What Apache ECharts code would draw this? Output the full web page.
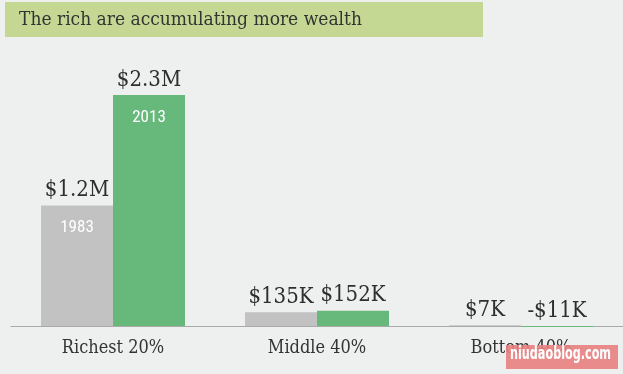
<!DOCTYPE html>
<html><head><meta charset="utf-8">
<script src="https://cdn.jsdelivr.net/npm/echarts@6/dist/echarts.min.js"></script>
<style>html,body{margin:0;padding:0;background:#eef0f0}#c{width:623px;height:374px}</style>
</head><body><div id="c"></div>
<script>
const categories = ['Richest 20%', 'Middle 40%', 'Bottom 40%'];
const values1983 = [1200, 135, 7];
const values2013 = [2300, 152, -11];
const labels1983 = ['$1.2M', '$135K', '$7K'];
const labels2013 = ['$2.3M', '$152K', '-$11K'];
const yearNames = ['1983', '2013'];
const yearLabelShown = [true, false, false];
const title = 'The rich are accumulating more wealth';

const serif = '"DejaVu Serif Condensed", "DejaVu Serif", serif';
function valueSeries(vals, labs, name, color, stack) {
  return {
    type: 'bar', name: name, stack: stack, barWidth: 72, barGap: '0%',
    itemStyle: { color: color },
    label: {
      show: true, position: 'top', distance: 4,
      fontFamily: serif, fontSize: 22, color: '#2e2e2e',
      formatter: p => labs[p.dataIndex]
    },
    data: vals
  };
}
function yearSeries(vals, name, stack) {
  return {
    type: 'bar', stack: stack, barWidth: 72, barGap: '0%', silent: true,
    itemStyle: { color: 'transparent' },
    label: {
      show: true, position: 'bottom', distance: 14, color: '#fff',
      fontFamily: '"Roboto Condensed", Roboto, sans-serif', fontSize: 17,
      formatter: p => yearLabelShown[p.dataIndex] ? name : ''
    },
    data: vals.map(() => 0)
  };
}
const chart = echarts.init(document.getElementById('c'));
chart.setOption({
  backgroundColor: '#eef0f0',
  animation: false,
  grid: { left: 11, width: 618, top: 95, bottom: 47 },
  xAxis: {
    type: 'category', data: categories,
    axisLine: { lineStyle: { color: '#aaaaaa', width: 1 } },
    axisTick: { show: false },
    axisLabel: { fontFamily: serif, fontSize: 18, color: '#333', margin: 12 }
  },
  yAxis: { type: 'value', min: -11, max: 2300, show: false, splitLine: { show: false } },
  series: [
    valueSeries(values1983, labels1983, yearNames[0], '#c2c2c2', 'a'),
    yearSeries(values1983, yearNames[0], 'a'),
    valueSeries(values2013, labels2013, yearNames[1], '#66b97a', 'b'),
    yearSeries(values2013, yearNames[1], 'b')
  ],
  graphic: [
    { type: 'rect', left: 5, top: 2, shape: { width: 478, height: 35 }, style: { fill: '#c4d894' } },
    { type: 'text', left: 19, top: 11, style: { text: title, font: '19px ' + serif, fill: '#333' } },
    { type: 'rect', left: 506, top: 345, z: 100, shape: { width: 112, height: 24 }, style: { fill: 'rgba(232,128,128,0.9)' } },
    { type: 'text', x: 510, y: 346, scaleX: 0.66, z: 101, style: { text: 'niudaoblog.com', font: 'bold 17px "DejaVu Sans", sans-serif', fill: '#fff' } }
  ]
});
</script></body></html>
